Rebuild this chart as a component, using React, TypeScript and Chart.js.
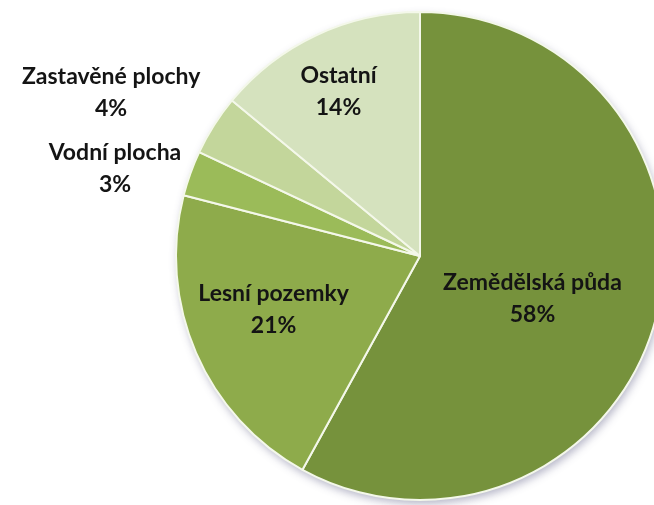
import React, { useEffect, useRef } from "react";
import { Chart, registerables } from "chart.js";

Chart.register(...registerables);

const categories = ["Zemědělská půda", "Lesní pozemky", "Vodní plocha", "Zastavěné plochy", "Ostatní"];
const shares = [58, 21, 3, 4, 14];
const percentLabels = ["58%", "21%", "3%", "4%", "14%"];
const sliceColors = ["#76923C", "#8EAB4B", "#9BBB59", "#C3D69B", "#D5E2BE"];

// label anchor (centre x, first baseline y) relative to pie centre, in units of radius
const labelAnchors: [number, number][] = [
  [0.461, 0.141],
  [-0.6, 0.186],
  [-1.25, -0.393],
  [-1.266, -0.705],
  [-0.334, -0.709],
];

const shadowPlugin = {
  id: "pieShadow",
  beforeDatasetsDraw(chart: any) {
    const meta = chart.getDatasetMeta(0);
    const arc = meta.data[0];
    if (!arc) return;
    const { x, y, outerRadius } = arc.getProps(["x", "y", "outerRadius"], true);
    const ctx = chart.ctx;
    ctx.save();
    ctx.shadowColor = "rgba(90,90,130,0.45)";
    ctx.shadowBlur = 9;
    ctx.shadowOffsetX = 2;
    ctx.shadowOffsetY = 4;
    ctx.beginPath();
    ctx.arc(x, y, outerRadius, 0, Math.PI * 2);
    ctx.fillStyle = "#ffffff";
    ctx.fill();
    ctx.restore();
  },
};

const labelPlugin = {
  id: "pieLabels",
  afterDatasetsDraw(chart: any) {
    const meta = chart.getDatasetMeta(0);
    const arc = meta.data[0];
    if (!arc) return;
    const { x, y, outerRadius } = arc.getProps(["x", "y", "outerRadius"], true);
    const ctx = chart.ctx;
    ctx.save();
    ctx.font = "bold 23px Lato";
    ctx.fillStyle = "#141414";
    ctx.textAlign = "center";
    ctx.textBaseline = "alphabetic";
    categories.forEach((name, i) => {
      const [fx, fy] = labelAnchors[i];
      const cx = x + fx * outerRadius;
      const by = y + fy * outerRadius;
      ctx.fillText(name, cx, by);
      ctx.fillText(percentLabels[i], cx, by + 32);
    });
    ctx.restore();
  },
};

export default function App() {
  const ref = useRef<HTMLCanvasElement | null>(null);
  useEffect(() => {
    if (!ref.current) return;
    const chart = new Chart(ref.current, {
      type: "pie",
      data: {
        labels: categories,
        datasets: [
          {
            data: shares,
            backgroundColor: sliceColors,
            borderColor: "#F4F8EA",
            borderWidth: 2,
            radius: 244,
          },
        ],
      },
      options: {
        responsive: false,
        animation: false,
        layout: { padding: { left: 176, right: 16, top: 12, bottom: 5 } },
        plugins: {
          legend: { display: false },
          tooltip: { enabled: false },
        },
      },
      plugins: [shadowPlugin, labelPlugin],
    });
    return () => chart.destroy();
  }, []);
  return (
    <div
      style={{
        position: "fixed",
        left: 0,
        top: 0,
        width: 654,
        height: 505,
        overflow: "hidden",
        background: "#ffffff",
      }}
    >
      <canvas ref={ref} width={680} height={505} style={{ width: 680, height: 505, display: "block" }} />
    </div>
  );
}
